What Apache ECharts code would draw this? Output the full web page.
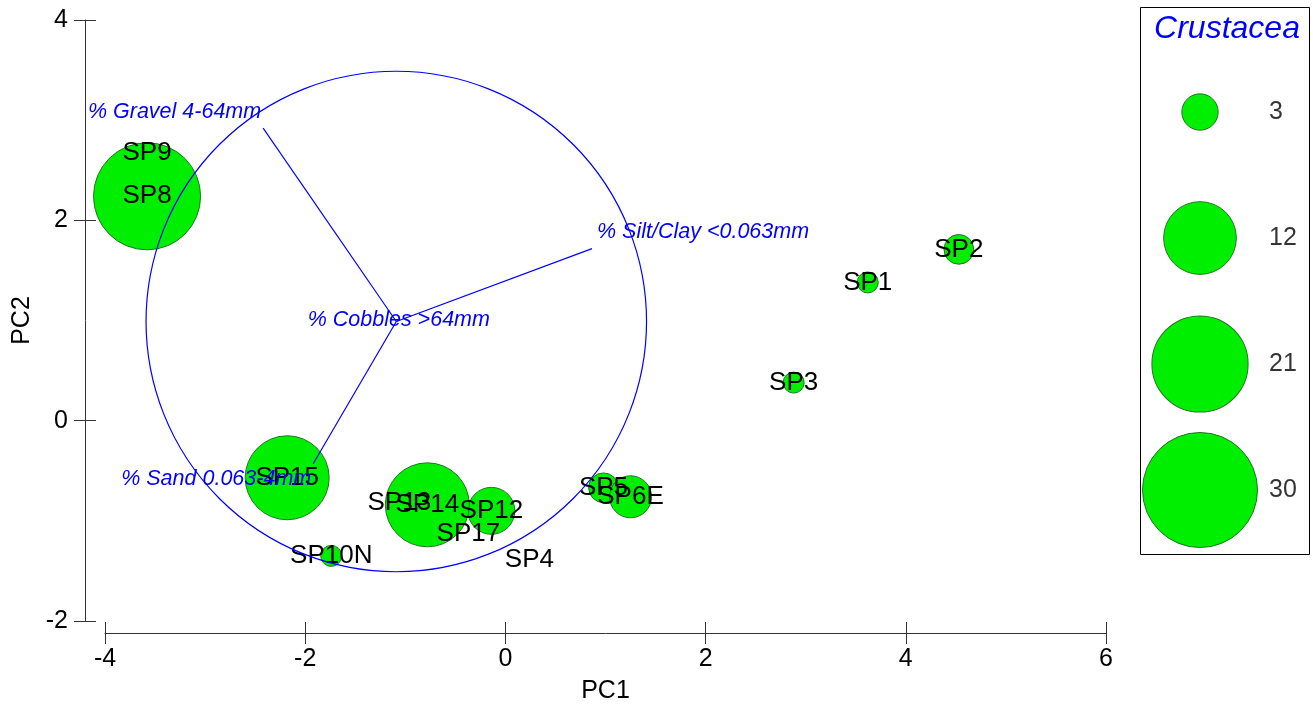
<!DOCTYPE html>
<html>
<head>
<meta charset="utf-8">
<script src="https://cdn.jsdelivr.net/npm/echarts@6/dist/echarts.min.js"></script>
<style>html,body{margin:0;padding:0;background:#fff}#c{width:1313px;height:713px}</style>
</head>
<body>
<div id="c"></div>
<script>
// ---- data ----
const siteNames = ['SP1','SP2','SP3','SP4','SP5','SP6E','SP8','SP9','SP10N','SP12','SP13','SP14','SP15','SP17'];
const siteX = [3.62, 4.53, 2.88, 0.24, 0.98, 1.25, -3.58, -3.58, -1.74, -0.14, -1.06, -0.78, -2.18, -0.37];
const siteY = [1.38, 1.71, 0.38, -1.39, -0.67, -0.76, 2.24, 2.67, -1.35, -0.90, -0.82, -0.84, -0.57, -1.13];
const crustacea = [1, 2, 1, 0, 2, 4, 26, 0, 1, 5, 0, 16, 16, 0];

const vectorNames = ['% Gravel 4-64mm', '% Silt/Clay <0.063mm', '% Sand 0.063-4mm', '% Cobbles >64mm'];
const vectorOrigin = [-1.09, 0.99];
const vectorEndX = [-2.42, 0.865, -1.92, -1.065];
const vectorEndY = [2.92, 1.717, -0.43, 1.0];
const circleRadius = 2.5;

const legendValues = [3, 12, 21, 30];
const xTicks = {min: -4, max: 6, interval: 2};
const yTicks = {min: -2, max: 4, interval: 2};

// ---- chart ----
const FONT = '"Liberation Sans", Arial, sans-serif';
const AX = '#333';
const bubbleSize = v => 21 * Math.sqrt(v);

const siteData = siteNames.map((n, i) => ({name: n, value: [siteX[i], siteY[i], crustacea[i]]}));
const vecData = vectorNames.map((n, i) => ({name: n, value: [vectorOrigin[0], vectorOrigin[1], vectorEndX[i], vectorEndY[i]]}));
const vecLabelStyle = [
  {align: 'right', verticalAlign: 'bottom', dx: -2, dy: -5},
  {align: 'left', verticalAlign: 'bottom', dx: 5, dy: -6},
  {align: 'right', verticalAlign: 'top', dx: -2, dy: 4},
  {align: 'center', verticalAlign: 'middle', dx: 0, dy: 0}
];

const chart = echarts.init(document.getElementById('c'), null, {renderer: 'canvas'});
const option = {
  animation: false,
  backgroundColor: '#fff',
  textStyle: {fontFamily: FONT},
  title: {
    text: 'Crustacea', left: 1222, top: 8, textAlign: 'center',
    textStyle: {color: '#0000ff', fontStyle: 'italic', fontWeight: 'normal', fontSize: 32, fontFamily: FONT}
  },
  graphic: [{
    type: 'rect', left: 1138, top: 5, shape: {width: 169, height: 547},
    style: {fill: 'none', stroke: '#000', lineWidth: 1}
  }],
  grid: [
    {left: 105, right: 207, top: 20, bottom: 92},
    {left: 1150, width: 150, top: 112, height: 378}
  ],
  xAxis: [
    {type: 'value', gridIndex: 0, min: xTicks.min, max: xTicks.max, interval: xTicks.interval,
     position: 'bottom', offset: 12,
     name: 'PC1', nameLocation: 'middle', nameGap: 46,
     nameTextStyle: {color: '#000', fontSize: 25, fontFamily: FONT},
     axisLine: {show: true, onZero: false, lineStyle: {color: AX, width: 1}},
     axisTick: {show: true, length: 11, lineStyle: {color: AX}},
     axisLabel: {color: '#000', fontSize: 25, margin: 14, fontFamily: FONT},
     splitLine: {show: false}},
    {type: 'value', gridIndex: 0, min: xTicks.min, max: xTicks.max, interval: xTicks.interval,
     position: 'bottom', offset: 12,
     axisLine: {show: false, onZero: false}, axisTick: {show: true, inside: true, length: 11, lineStyle: {color: AX}},
     axisLabel: {show: false}, splitLine: {show: false}},
    {type: 'value', gridIndex: 1, min: 0, max: 3, show: false}
  ],
  yAxis: [
    {type: 'value', gridIndex: 0, min: yTicks.min, max: yTicks.max, interval: yTicks.interval,
     position: 'left', offset: 20,
     name: 'PC2', nameLocation: 'middle', nameGap: 50,
     nameTextStyle: {color: '#000', fontSize: 25, fontFamily: FONT},
     axisLine: {show: true, onZero: false, lineStyle: {color: AX, width: 1}},
     axisTick: {show: true, length: 11, lineStyle: {color: AX}},
     axisLabel: {color: '#000', fontSize: 25, margin: 17, fontFamily: FONT},
     splitLine: {show: false}},
    {type: 'value', gridIndex: 0, min: yTicks.min, max: yTicks.max, interval: yTicks.interval,
     position: 'left', offset: 20,
     axisLine: {show: false, onZero: false}, axisTick: {show: true, inside: true, length: 11, lineStyle: {color: AX}},
     axisLabel: {show: false}, splitLine: {show: false}},
    {type: 'value', gridIndex: 1, min: 0, max: 3, inverse: true, show: false}
  ],
  series: [
    {
      type: 'scatter', xAxisIndex: 0, yAxisIndex: 0, z: 2,
      data: siteData,
      symbolSize: v => bubbleSize(v[2]),
      itemStyle: {color: '#00ee00', borderColor: '#1f7a1f', borderWidth: 1, opacity: 1},
      label: {show: true, position: 'inside', formatter: p => p.name, color: '#000', fontSize: 26, fontFamily: FONT},
      emphasis: {disabled: true}, silent: true
    },
    {
      type: 'custom', xAxisIndex: 0, yAxisIndex: 0, z: 3, silent: true,
      data: [[vectorOrigin[0], vectorOrigin[1], circleRadius]],
      renderItem: (params, api) => {
        const c = api.coord([api.value(0), api.value(1)]);
        const r = api.size([api.value(2), 0])[0];
        return {type: 'circle', shape: {cx: c[0], cy: c[1], r: r},
                style: {fill: 'none', stroke: '#0000ff', lineWidth: 1.2}};
      }
    },
    {
      type: 'custom', xAxisIndex: 0, yAxisIndex: 0, z: 3, silent: true,
      data: vecData,
      renderItem: (params, api) => {
        const o = api.coord([api.value(0), api.value(1)]);
        const e = api.coord([api.value(2), api.value(3)]);
        const s = vecLabelStyle[params.dataIndex];
        return {type: 'group', children: [
          {type: 'line', shape: {x1: o[0], y1: o[1], x2: e[0], y2: e[1]},
           style: {stroke: '#0000ff', lineWidth: 1.2}},
          {type: 'text', x: e[0] + s.dx, y: e[1] + s.dy,
           style: {text: vectorNames[params.dataIndex], fill: '#0000ff',
                   font: 'italic 21.5px "Liberation Sans", Arial, sans-serif',
                   align: s.align, verticalAlign: s.verticalAlign}}
        ]};
      }
    },
    {
      type: 'scatter', xAxisIndex: 2, yAxisIndex: 2, silent: true,
      data: legendValues.map((v, i) => [1, i, v]),
      symbolSize: v => bubbleSize(v[2]),
      itemStyle: {color: '#00ee00', borderColor: '#1f7a1f', borderWidth: 1, opacity: 1},
      emphasis: {disabled: true}
    },
    {
      type: 'scatter', xAxisIndex: 2, yAxisIndex: 2, silent: true,
      data: legendValues.map((v, i) => [2.38, i, v]),
      symbolSize: 0,
      label: {show: true, position: 'inside', align: 'left', formatter: p => String(p.value[2]),
              color: '#000', fontSize: 25, fontFamily: FONT},
      emphasis: {disabled: true}
    }
  ]
};
chart.setOption(option);
</script>
</body>
</html>
